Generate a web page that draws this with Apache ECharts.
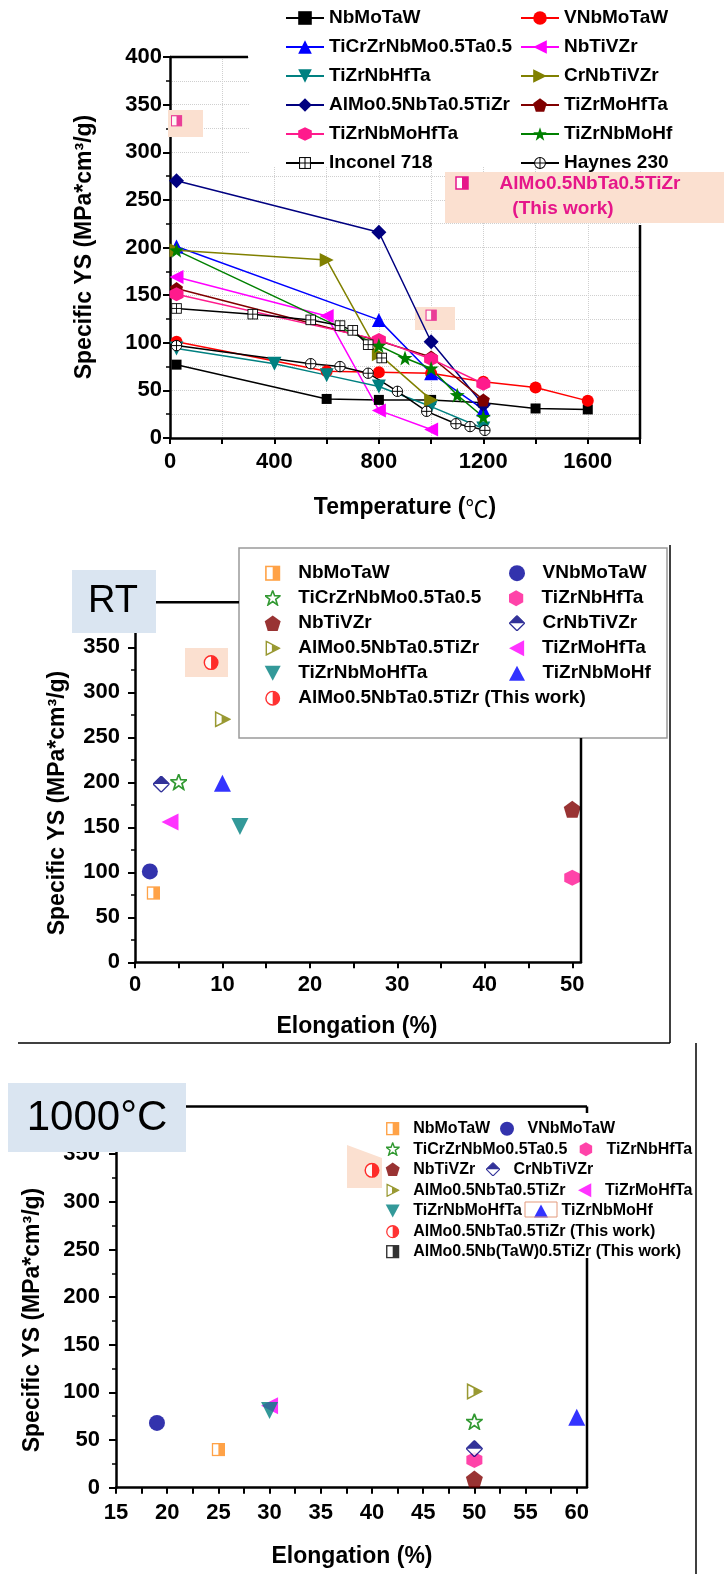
<!DOCTYPE html>
<html>
<head>
<meta charset="utf-8">
<script src="https://cdn.jsdelivr.net/npm/echarts@6/dist/echarts.min.js"></script>
<style>
  html, body { margin: 0; padding: 0; background: #fff; }
  #chart { width: 724px; height: 1574px; }
</style>
</head>
<body>
<div id="chart"></div>
<script>
// ---------- Specific yield strength vs temperature, [°C, MPa·cm³/g] ----------
const tempNbMoTaW      = [[25, 77], [600, 41], [800, 40], [1000, 40], [1200, 37], [1400, 31], [1600, 30]];
const tempVNbMoTaW     = [[25, 101], [600, 70], [800, 69], [1000, 68], [1200, 59], [1400, 53], [1600, 39]];
const tempTiCrZrNbMoTa = [[25, 201], [800, 124], [1000, 68], [1200, 30]];
const tempNbTiVZr      = [[25, 169], [600, 128], [800, 29], [1000, 9]];
const tempTiZrNbHfTa   = [[25, 94], [400, 78], [600, 66], [800, 54], [1000, 33], [1200, 10]];
const tempCrNbTiVZr    = [[25, 197], [600, 187], [800, 88], [1000, 40]];
const tempAlMoNbTaTiZr = [[25, 270], [800, 216], [1000, 101], [1200, 35]];
const tempTiZrMoHfTa   = [[25, 157], [800, 102], [1000, 85], [1200, 40]];
const tempTiZrNbMoHfTa = [[25, 151], [800, 103], [1000, 83], [1200, 57]];
const tempTiZrNbMoHf   = [[25, 197], [800, 97], [900, 84], [1000, 73], [1100, 45], [1200, 22]];
const tempInconel718   = [[25, 136], [317, 130], [539, 124], [651, 118], [700, 113], [759, 98], [811, 84]];
const tempHaynes230    = [[25, 97], [539, 78], [651, 75], [759, 68], [871, 49], [983, 28], [1095, 15], [1149, 12], [1206, 8]];
const tempThisWork     = [[25, 333], [1000, 129]];
const tempLabelTicks   = [0, 400, 800, 1200, 1600];

// ---------- Room temperature: elongation (%) vs specific YS ----------
const rtNames = ['NbMoTaW', 'VNbMoTaW', 'TiCrZrNbMo0.5Ta0.5', 'TiZrNbHfTa', 'NbTiVZr', 'CrNbTiVZr',
                 'AlMo0.5NbTa0.5TiZr', 'TiZrMoHfTa', 'TiZrNbMoHfTa', 'TiZrNbMoHf', 'AlMo0.5NbTa0.5TiZr (This work)'];
const rtElong = [2.1, 1.7, 5, 50, 50, 3, 10, 4, 12, 10, 8.7];
const rtYS    = [77, 101, 200, 94, 170, 198, 270, 156, 151, 199, 333];
const rtLabelTicks = [0, 10, 20, 30, 40, 50];
const rtTicks      = [0, 5, 10, 15, 20, 25, 30, 35, 40, 45, 50];

// ---------- 1000 °C: elongation (%) vs specific YS ----------
const htNames = ['NbMoTaW', 'VNbMoTaW', 'TiCrZrNbMo0.5Ta0.5', 'TiZrNbHfTa', 'NbTiVZr', 'CrNbTiVZr',
                 'AlMo0.5NbTa0.5TiZr', 'TiZrMoHfTa', 'TiZrNbMoHfTa', 'TiZrNbMoHf',
                 'AlMo0.5NbTa0.5TiZr (This work)', 'AlMo0.5Nb(TaW)0.5TiZr (This work)'];
const htElong = [25, 19, 50, 50, 50, 50, 50, 30, 30, 60, 40, null];
const htYS    = [40, 68, 69, 29, 9, 41, 101, 86, 81, 74, 333, null];
const htLabelTicks = [15, 20, 25, 30, 35, 40, 45, 50, 55, 60];
const htTicks      = [15, 17.5, 20, 22.5, 25, 27.5, 30, 32.5, 35, 37.5, 40, 42.5, 45, 47.5, 50, 52.5, 55, 57.5, 60];

// ---------- symbols ----------
const FONT = '"Liberation Sans", Arial, Helvetica, "DejaVu Sans", sans-serif';
function svgSym(body) {
  return 'image://data:image/svg+xml;charset=utf-8,' + encodeURIComponent(
    "<svg xmlns='http://www.w3.org/2000/svg' width='40' height='40' viewBox='0 0 20 20'>" + body + "</svg>");
}
const STAR_D = 'M10 0.5L12.35 7L19.5 7.1L13.8 11.4L15.9 18.4L10 14.2L4.1 18.4L6.2 11.4L0.5 7.1L7.65 7Z';
const SYM = {
  triUp: 'path://M10,1L19,18L1,18Z',
  triDown: 'path://M1,2L19,2L10,19Z',
  triLeft: 'path://M1,10L18,1L18,19Z',
  triRight: 'path://M2,1L19,10L2,19Z',
  pentagon: 'path://M10,1L19,7.5L15.6,18.5L4.4,18.5L1,7.5Z',
  hexagon: 'path://M10,1L18,5.5L18,14.5L10,19L2,14.5L2,5.5Z',
  star: 'path://' + STAR_D
};
const halfSquare = c => svgSym(`<rect x='1.5' y='1.5' width='17' height='17' fill='#fff' stroke='${c}' stroke-width='2'/><rect x='10' y='1.5' width='8.5' height='17' fill='${c}'/>`);
const halfCircle = c => svgSym(`<circle cx='10' cy='10' r='8.5' fill='#fff' stroke='${c}' stroke-width='1.8'/><path d='M10 1.5A8.5 8.5 0 0 1 10 18.5Z' fill='${c}'/>`);
const halfDiamond = c => svgSym(`<path d='M10 0.5L19.5 10L10 19.5L0.5 10Z' fill='#fff' stroke='${c}' stroke-width='1.6'/><path d='M10 0.5L19.5 10L0.5 10Z' fill='${c}'/>`);
const halfTriRight = c => svgSym(`<path d='M2 1.5L18.5 10L2 18.5Z' fill='#fff' stroke='${c}' stroke-width='1.8'/><path d='M9 5.1L18.5 10L9 14.9Z' fill='${c}'/>`);
const openStar = c => svgSym(`<path d='${STAR_D}' fill='#fff' stroke='${c}' stroke-width='2'/>`);
const squarePlus = svgSym(`<rect x='2' y='2' width='16' height='16' fill='#fff' stroke='#000' stroke-width='1.5'/><path d='M10 2V18M2 10H18' stroke='#000' stroke-width='1.5'/>`);
const circlePlus = svgSym(`<circle cx='10' cy='10' r='8' fill='#fff' stroke='#000' stroke-width='1.5'/><path d='M10 2V18M2 10H18' stroke='#000' stroke-width='1.5'/>`);

// line panel: name, data, color, symbol, size
const tempSeries = [
  ['NbMoTaW', tempNbMoTaW, '#000000', 'rect', 10],
  ['VNbMoTaW', tempVNbMoTaW, '#ff0000', 'circle', 12],
  ['TiCrZrNbMo0.5Ta0.5', tempTiCrZrNbMoTa, '#0000ff', SYM.triUp, 14],
  ['NbTiVZr', tempNbTiVZr, '#ff00ff', SYM.triLeft, 14],
  ['TiZrNbHfTa', tempTiZrNbHfTa, '#008080', SYM.triDown, 14],
  ['CrNbTiVZr', tempCrNbTiVZr, '#808000', SYM.triRight, 14],
  ['AlMo0.5NbTa0.5TiZr', tempAlMoNbTaTiZr, '#000080', 'diamond', 15],
  ['TiZrMoHfTa', tempTiZrMoHfTa, '#800000', SYM.pentagon, 13],
  ['TiZrNbMoHfTa', tempTiZrNbMoHfTa, '#ff1a8c', SYM.hexagon, 14],
  ['TiZrNbMoHf', tempTiZrNbMoHf, '#008000', SYM.star, 15],
  ['Inconel 718', tempInconel718, '#000000', squarePlus, 12],
  ['Haynes 230', tempHaynes230, '#000000', circlePlus, 13]
];

// scatter panels: symbol, color and size per alloy
const scatterStyle = {
  'NbMoTaW': [halfSquare('#ff8c1a'), '#ff8c1a', 14],
  'VNbMoTaW': ['circle', '#000099', 16],
  'TiCrZrNbMo0.5Ta0.5': [openStar('#008000'), '#008000', 17],
  'TiZrNbHfTa': [SYM.hexagon, '#ff1493', 16],
  'NbTiVZr': [SYM.pentagon, '#800000', 17],
  'CrNbTiVZr': [halfDiamond('#000080'), '#000080', 17],
  'AlMo0.5NbTa0.5TiZr': [halfTriRight('#808000'), '#808000', 17],
  'TiZrMoHfTa': [SYM.triLeft, '#ff00ff', 17],
  'TiZrNbMoHfTa': [SYM.triDown, '#008080', 17],
  'TiZrNbMoHf': [SYM.triUp, '#0000ff', 17],
  'AlMo0.5NbTa0.5TiZr (This work)': [halfCircle('#ff0000'), '#ff0000', 16],
  'AlMo0.5Nb(TaW)0.5TiZr (This work)': [halfSquare('#000000'), '#000000', 14]
};

const stripPrefix = n => n.slice(n.indexOf('|') + 1);
const series = [];

tempSeries.forEach(([name, data, color, symbol, size]) => {
  series.push({
    type: 'line', name: 'a|' + name, xAxisIndex: 0, yAxisIndex: 0, data,
    symbol, symbolSize: size, showAllSymbol: true,
    lineStyle: { color, width: 1.5 }, itemStyle: { color }
  });
});
series.push({
  type: 'scatter', name: 'a|this', xAxisIndex: 0, yAxisIndex: 0, data: tempThisWork,
  symbol: halfSquare('#e6168a'), symbolSize: 12, z: 3
});

rtNames.forEach((name, i) => {
  const [symbol, color, size] = scatterStyle[name];
  series.push({
    type: 'scatter', name: 'b|' + name, xAxisIndex: 1, yAxisIndex: 1,
    data: [[rtElong[i], rtYS[i]]], symbol, symbolSize: size, itemStyle: { color }
  });
});

htNames.forEach((name, i) => {
  const [symbol, color, size] = scatterStyle[name];
  series.push({
    type: 'scatter', name: 'c|' + name, xAxisIndex: 2, yAxisIndex: 2,
    data: htElong[i] == null ? [] : [[htElong[i], htYS[i]]], symbol, symbolSize: size, itemStyle: { color }
  });
});

// ---------- legends ----------
const legends = [];
const p1Cols = [
  { left: 285, names: ['NbMoTaW', 'TiCrZrNbMo0.5Ta0.5', 'TiZrNbHfTa', 'AlMo0.5NbTa0.5TiZr', 'TiZrNbMoHfTa', 'Inconel 718'] },
  { left: 520, names: ['VNbMoTaW', 'NbTiVZr', 'CrNbTiVZr', 'TiZrMoHfTa', 'TiZrNbMoHf', 'Haynes 230'] }
];
p1Cols.forEach(col => legends.push({
  orient: 'vertical', left: col.left, top: 8.5, padding: 0, itemGap: 10,
  itemWidth: 38, itemHeight: 17, selectedMode: false,
  data: col.names.map(n => 'a|' + n), formatter: stripPrefix,
  textStyle: { fontFamily: FONT, fontSize: 19, fontWeight: 'bold', color: '#000', lineHeight: 17 }
}));

// one legend entry: square icon centred on cx, label starting at cx + textOffset
function itemLegend(key, cx, cy, size, textOffset, fs) {
  return {
    orient: 'horizontal', left: cx - size / 2, top: cy - size / 2, padding: 0, itemGap: 0,
    itemWidth: size, itemHeight: size, selectedMode: false, data: [key], formatter: stripPrefix,
    textStyle: { fontFamily: FONT, fontSize: fs, fontWeight: 'bold', color: '#000', lineHeight: size,
                 padding: [0, 0, 0, textOffset - size / 2 - 5] }
  };
}
const rtLegendCols = [
  { cx: 272.7, names: ['NbMoTaW', 'TiCrZrNbMo0.5Ta0.5', 'NbTiVZr', 'AlMo0.5NbTa0.5TiZr', 'TiZrNbMoHfTa', 'AlMo0.5NbTa0.5TiZr (This work)'] },
  { cx: 517, names: ['VNbMoTaW', 'TiZrNbHfTa', 'CrNbTiVZr', 'TiZrMoHfTa', 'TiZrNbMoHf'] }
];
rtLegendCols.forEach(col => col.names.forEach((n, r) => {
  legends.push(itemLegend('b|' + n, col.cx, 571.7 + r * 25, 16, 25.5, 19));
}));

const htLegendRows = [
  { cy: 1127.7, items: [['NbMoTaW', 392.7], ['VNbMoTaW', 507]] },
  { cy: 1148.3, items: [['TiCrZrNbMo0.5Ta0.5', 392.7], ['TiZrNbHfTa', 586.7]] },
  { cy: 1168.3, items: [['NbTiVZr', 392.7], ['CrNbTiVZr', 493]] },
  { cy: 1189.3, items: [['AlMo0.5NbTa0.5TiZr', 392.7], ['TiZrMoHfTa', 585]] },
  { cy: 1210, items: [['TiZrNbMoHfTa', 392.7], ['TiZrNbMoHf', 541]] },
  { cy: 1230.7, items: [['AlMo0.5NbTa0.5TiZr (This work)', 392.7]] },
  { cy: 1250.7, items: [['AlMo0.5Nb(TaW)0.5TiZr (This work)', 392.7]] }
];
htLegendRows.forEach(row => row.items.forEach(([n, cx]) => {
  legends.push(itemLegend('c|' + n, cx, row.cy, 14, 20.5, 16));
}));

// ---------- axes ----------
const AX_LINE = { show: true, onZero: false, lineStyle: { color: '#000', width: 2.5 } };
const LABEL = { color: '#000', fontFamily: FONT, fontSize: 22, fontWeight: 'bold', formatter: v => String(v) };
const DOT = { show: true, lineStyle: { color: '#cfcfcf', type: 'dotted', width: 1 } };

const xAxis = [
  { gridIndex: 0, type: 'value', min: 0, max: 1800, interval: 200, axisLine: AX_LINE,
    axisTick: { show: true, inside: false, length: 6, lineStyle: { color: '#000', width: 2 } },
    axisLabel: Object.assign({ margin: 13, customValues: tempLabelTicks }, LABEL),
    splitLine: DOT },
  { gridIndex: 1, type: 'value', min: 0, max: 51, axisLine: AX_LINE,
    axisTick: { show: true, length: 6, customValues: rtTicks, lineStyle: { color: '#000', width: 2 } },
    axisLabel: Object.assign({ margin: 12, customValues: rtLabelTicks }, LABEL),
    splitLine: { show: false } },
  { gridIndex: 2, type: 'value', min: 15, max: 61, axisLine: AX_LINE,
    axisTick: { show: true, length: 6, customValues: htTicks, lineStyle: { color: '#000', width: 2 } },
    axisLabel: Object.assign({ margin: 14, customValues: htLabelTicks }, LABEL),
    splitLine: { show: false } }
];
function yAxisFor(grid, margin, gridLines) {
  return {
    gridIndex: grid, type: 'value', min: 0, max: 400, interval: 50, axisLine: AX_LINE,
    axisTick: { show: true, length: 7, lineStyle: { color: '#000', width: 2 } },
    minorTick: { show: true, splitNumber: 2, length: 4, lineStyle: { color: '#000', width: 1.5 } },
    axisLabel: Object.assign({ margin }, LABEL),
    splitLine: gridLines ? DOT : { show: false },
    minorSplitLine: gridLines ? DOT : { show: false }
  };
}
const yAxis = [yAxisFor(0, 8, true), yAxisFor(1, 15, false), yAxisFor(2, 16, false)];

const grid = [
  { left: 170, top: 57, width: 470, height: 381, outerBoundsMode: 'none', containLabel: false },
  { left: 135, top: 602.3, width: 446, height: 360, outerBoundsMode: 'none', containLabel: false },
  { left: 116, top: 1106.5, width: 471, height: 381.2, outerBoundsMode: 'none', containLabel: false }
];

// ---------- decorations ----------
const PEACH = '#fbe0d0';
const BLUE_BOX = '#dae5f1';
const PINK = '#e6168a';
const line = (x1, y1, x2, y2, w) => ({ type: 'line', z: 6, shape: { x1, y1, x2, y2 }, style: { stroke: '#000', lineWidth: w || 2.5 } });
const rect = (x, y, width, height, style, z) => ({ type: 'rect', z, shape: { x, y, width, height }, style });
const text = (x, y, str, font, fill, extra) => Object.assign({ type: 'text', x, y, z: 12,
  style: { text: str, font, fill: fill || '#000', align: 'center', verticalAlign: 'middle' } }, extra || {});
const TITLE_FONT = 'bold 23px ' + FONT;
const YS_TITLE = 'Specific YS (MPa*cm³/g)';

const graphic = [
  // temperature panel
  rect(250, 0, 474, 167, { fill: '#fff' }, 3),
  line(170, 57, 248, 57),
  line(640, 225, 640, 438),
  rect(168, 110, 35, 27, { fill: PEACH }, 1),
  rect(415, 307, 40, 23, { fill: PEACH }, 1),
  rect(445, 172, 279, 51, { fill: PEACH }, 5),
  rect(456, 177, 12, 12, { fill: '#fff', stroke: PINK, lineWidth: 1.5 }, 6),
  rect(462, 177, 6, 12, { fill: PINK }, 7),
  text(590, 184, 'AlMo0.5NbTa0.5TiZr', 'bold 19px ' + FONT, PINK),
  text(563, 209, '(This work)', 'bold 19px ' + FONT, PINK),
  text(85, 247, YS_TITLE, TITLE_FONT, '#000', { rotation: Math.PI / 2 }),
  { type: 'text', x: 405, y: 508, z: 12, style: {
      text: '{a|Temperature (}{b|℃}{a|)}', align: 'center', verticalAlign: 'middle',
      rich: { a: { font: TITLE_FONT, fill: '#000' }, b: { font: '23px "Noto Sans CJK SC"', fill: '#000' } } } },

  // room temperature panel
  rect(72, 570, 84, 63, { fill: BLUE_BOX }, 10),
  text(113, 602, 'RT', '38px ' + FONT),
  line(156, 602.3, 239, 602.3),
  rect(239, 548, 428, 190, { fill: '#fff', stroke: '#9a9a9a', lineWidth: 1.5 }, 3),
  line(581, 738, 581, 962.3),
  line(670, 545, 670, 1043, 1.5),
  line(18, 1043, 670, 1043, 1.5),
  rect(185, 648, 43, 29, { fill: PEACH }, 1),
  text(58, 803, YS_TITLE, TITLE_FONT, '#000', { rotation: Math.PI / 2 }),
  text(357, 1027, 'Elongation (%)', TITLE_FONT),

  // 1000 °C panel
  rect(8, 1083, 178, 69, { fill: BLUE_BOX }, 10),
  text(97, 1118, '1000°C', '42px ' + FONT),
  line(186, 1106.5, 587, 1106.5),
  line(587, 1106.5, 587, 1113),
  line(587, 1258, 587, 1487.7),
  line(696, 1043, 696, 1574, 1.5),
  { type: 'polygon', z: 1, shape: { points: [[347, 1145], [382, 1158], [382, 1188], [347, 1188]] }, style: { fill: PEACH } },
  rect(525, 1202, 32, 15, { fill: 'none', stroke: '#e39a7c', lineWidth: 1 }, 6),
  text(33, 1320, YS_TITLE, TITLE_FONT, '#000', { rotation: Math.PI / 2 }),
  text(352, 1557, 'Elongation (%)', TITLE_FONT)
];

const chart = echarts.init(document.getElementById('chart'), null, { renderer: 'canvas' });
chart.setOption({
  animation: false,
  backgroundColor: '#fff',
  textStyle: { fontFamily: FONT },
  grid, xAxis, yAxis, legend: legends, series, graphic
});
</script>
</body>
</html>
